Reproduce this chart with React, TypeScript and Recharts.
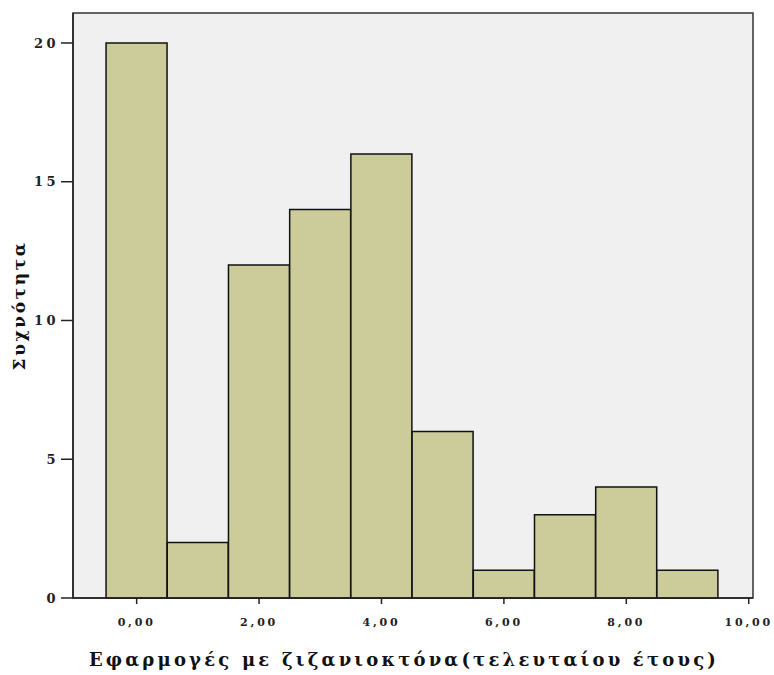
import React from 'react';
import { ComposedChart, Bar, XAxis, YAxis, CartesianGrid, ReferenceArea } from 'recharts';

const binCenters = [0, 1, 2, 3, 4, 5, 6, 7, 8, 9];
const frequencies = [20, 2, 12, 14, 16, 6, 1, 3, 4, 1];
const xTicks = [0, 2, 4, 6, 8, 10];
const yTicks = [0, 5, 10, 15, 20];

const data = binCenters.map((x, i) => ({ x, count: frequencies[i] }));

const X_DOMAIN: [number, number] = [-1.04, 10.07];
const Y_DOMAIN: [number, number] = [0, 21.08];
const FONT = '"DejaVu Serif", "Liberation Serif", serif';

const App: React.FC = () => {
  return (
    <div style={{ position: 'absolute', left: 0, top: 0, width: 774, height: 675, background: '#fff' }}>
      <ComposedChart
        width={774}
        height={675}
        data={data}
        margin={{ top: 13, right: 21, bottom: 6, left: 0 }}
        barCategoryGap={0}
        barGap={0}
      >
        <CartesianGrid horizontal={false} vertical={false} fill="#f0f0f0" />
        <XAxis
          dataKey="x"
          type="number"
          domain={X_DOMAIN}
          ticks={xTicks}
          tickFormatter={(v: number) => v.toFixed(2).replace('.', ',')}
          tickSize={6}
          height={71}
          stroke="#222"
          strokeWidth={1.5}
          tick={{ fill: '#222', fontSize: 11, fontFamily: FONT, fontWeight: 'bold', letterSpacing: 2.8 }}
          tickMargin={14}
          label={{
            value: 'Εφαρμογές με ζιζανιοκτόνα(τελευταίου έτους)',
            position: 'insideBottom',
            offset: 3,
            dx: -9,
            fill: '#111',
            fontSize: 18,
            fontFamily: FONT,
            fontWeight: 'bold',
            letterSpacing: 3.2,
          }}
        />
        <YAxis
          type="number"
          domain={Y_DOMAIN}
          ticks={yTicks}
          tickSize={12}
          width={73}
          stroke="#222"
          strokeWidth={1.5}
          tick={{ fill: '#222', fontSize: 13, fontFamily: FONT, fontWeight: 'bold', letterSpacing: 3.5 }}
          tickMargin={2}
          label={{
            value: 'Συχνότητα',
            angle: -90,
            position: 'insideLeft',
            offset: 19,
            fill: '#111',
            fontSize: 17,
            fontFamily: FONT,
            fontWeight: 'bold',
            letterSpacing: 2.6,
            style: { textAnchor: 'middle' },
          }}
        />
        <ReferenceArea
          x1={X_DOMAIN[0]}
          x2={X_DOMAIN[1]}
          y1={Y_DOMAIN[0]}
          y2={Y_DOMAIN[1]}
          fill="none"
          fillOpacity={0}
          stroke="#333"
          strokeWidth={1.5}
          ifOverflow="visible"
        />
        <Bar
          dataKey="count"
          fill="#cccb9a"
          stroke="#111"
          strokeWidth={1.5}
          isAnimationActive={false}
        />
      </ComposedChart>
    </div>
  );
};

export default App;
